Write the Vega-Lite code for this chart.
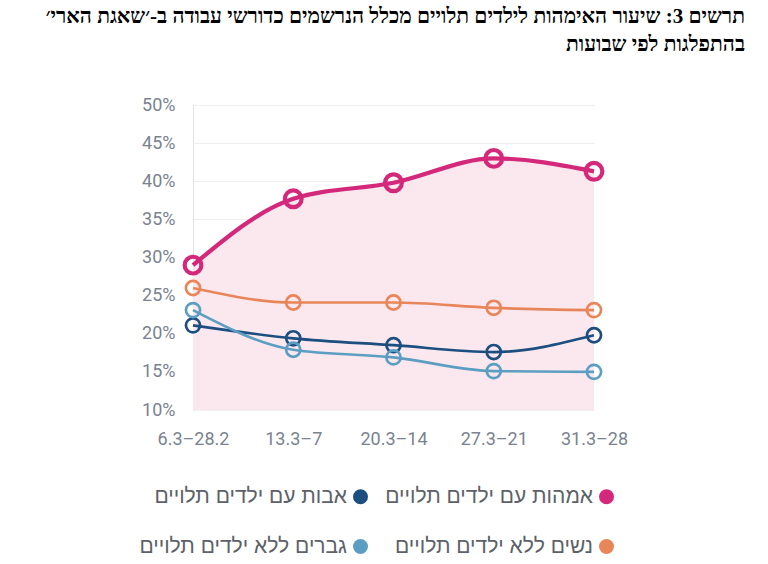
{
  "$schema": "https://vega.github.io/schema/vega-lite/v6.json",
  "width": 401,
  "height": 305,
  "autosize": {"type": "none"},
  "padding": {"left": 193, "top": 105, "right": 174, "bottom": 154},
  "background": "white",
  "title": {
    "text": ["תרשים 3: שיעור האימהות לילדים תלויים מכלל הנרשמים כדורשי עבודה ב-׳שאגת הארי׳", "בהתפלגות לפי שבועות"],
    "anchor": "end",
    "frame": "group",
    "dx": 151,
    "offset": 41,
    "font": "Liberation Serif",
    "fontSize": 21,
    "fontWeight": "bold",
    "color": "#000000",
    "lineHeight": 28
  },
  "config": {"view": {"stroke": null}},
  "data": {
    "values": [
      {"week": "6.3–28.2", "series": "אמהות עם ילדים תלויים", "value": 29.0},
      {"week": "13.3–7", "series": "אמהות עם ילדים תלויים", "value": 37.7},
      {"week": "20.3–14", "series": "אמהות עם ילדים תלויים", "value": 39.8},
      {"week": "27.3–21", "series": "אמהות עם ילדים תלויים", "value": 43.0},
      {"week": "31.3–28", "series": "אמהות עם ילדים תלויים", "value": 41.3},
      {"week": "6.3–28.2", "series": "נשים ללא ילדים תלויים", "value": 26.0},
      {"week": "13.3–7", "series": "נשים ללא ילדים תלויים", "value": 24.1},
      {"week": "20.3–14", "series": "נשים ללא ילדים תלויים", "value": 24.1},
      {"week": "27.3–21", "series": "נשים ללא ילדים תלויים", "value": 23.4},
      {"week": "31.3–28", "series": "נשים ללא ילדים תלויים", "value": 23.1},
      {"week": "6.3–28.2", "series": "אבות עם ילדים תלויים", "value": 21.1},
      {"week": "13.3–7", "series": "אבות עם ילדים תלויים", "value": 19.4},
      {"week": "20.3–14", "series": "אבות עם ילדים תלויים", "value": 18.5},
      {"week": "27.3–21", "series": "אבות עם ילדים תלויים", "value": 17.6},
      {"week": "31.3–28", "series": "אבות עם ילדים תלויים", "value": 19.8},
      {"week": "6.3–28.2", "series": "גברים ללא ילדים תלויים", "value": 23.1},
      {"week": "13.3–7", "series": "גברים ללא ילדים תלויים", "value": 17.9},
      {"week": "20.3–14", "series": "גברים ללא ילדים תלויים", "value": 16.9},
      {"week": "27.3–21", "series": "גברים ללא ילדים תלויים", "value": 15.1},
      {"week": "31.3–28", "series": "גברים ללא ילדים תלויים", "value": 15.0}
    ]
  },
  "encoding": {
    "x": {
      "field": "week",
      "type": "ordinal",
      "sort": null,
      "scale": {"type": "point", "padding": 0},
      "axis": {
        "title": null,
        "labelAngle": 0,
        "domain": false,
        "ticks": false,
        "grid": false,
        "labelFont": "Roboto",
        "labelFontSize": 18,
        "labelColor": "#7b8290",
        "labelPadding": 20
      }
    },
    "y": {
      "field": "value",
      "type": "quantitative",
      "scale": {"domain": [10, 50], "zero": false, "nice": false},
      "axis": {
        "title": null,
        "values": [10, 15, 20, 25, 30, 35, 40, 45, 50],
        "labelExpr": "datum.value + '%'",
        "domainColor": "#e2e2e2",
        "ticks": false,
        "gridColor": "#efefef",
        "labelFont": "Roboto",
        "labelFontSize": 18,
        "labelColor": "#7b8290",
        "labelPadding": 18
      }
    }
  },
  "layer": [
    {
      "transform": [{"filter": "datum.series == 'אמהות עם ילדים תלויים'"}],
      "mark": {"type": "area", "interpolate": "monotone", "color": "#fbe8ef"},
      "encoding": {"y2": {"datum": 10}}
    },
    {
      "mark": {"type": "line", "interpolate": "monotone"},
      "encoding": {
        "color": {
          "field": "series",
          "type": "nominal",
          "scale": {
            "domain": ["אבות עם ילדים תלויים", "אמהות עם ילדים תלויים", "גברים ללא ילדים תלויים", "נשים ללא ילדים תלויים"],
            "range": ["#1c4f7f", "#d4287a", "#5b9ec2", "#e8865a"]
          },
          "legend": {
            "orient": "none",
            "legendX": 157,
            "legendY": 381,
            "direction": "horizontal",
            "columns": 2,
            "title": null,
            "symbolType": "circle",
            "symbolSize": 225,
            "symbolStrokeWidth": 0,
            "labelAlign": "right",
            "labelOffset": -24,
            "labelFont": "Liberation Sans",
            "labelFontSize": 21,
            "labelColor": "#5d6168",
            "columnPadding": 17,
            "rowPadding": 28,
            "labelLimit": 400,
            "encode": {
              "symbols": {"update": {"fill": {"scale": "color", "field": "value"}, "stroke": {"value": "transparent"}}}
            }
          }
        },
        "strokeWidth": {
          "condition": {"test": "datum.series == 'אמהות עם ילדים תלויים'", "value": 4.2},
          "value": 2.7
        }
      }
    },
    {
      "mark": {"type": "point", "filled": false, "shape": "circle", "opacity": 1},
      "encoding": {
        "color": {"field": "series", "type": "nominal"},
        "size": {
          "condition": {"test": "datum.series == 'אמהות עם ילדים תלויים'", "value": 280},
          "value": 200
        },
        "strokeWidth": {
          "condition": {"test": "datum.series == 'אמהות עם ילדים תלויים'", "value": 4.2},
          "value": 2.7
        }
      }
    }
  ]
}
